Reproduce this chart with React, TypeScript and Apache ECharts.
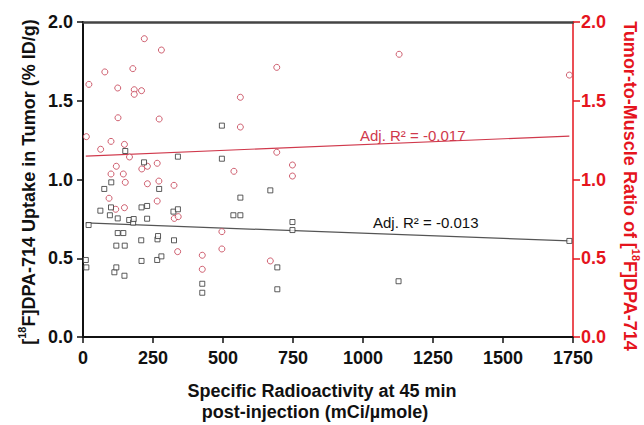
import React, { useEffect, useRef } from "react";
import * as echarts from "echarts";

// Specific radioactivity (mCi/µmole) vs [18F]DPA-714 uptake in tumor (%ID/g)
const uptakePoints: number[][] = [
  [20, 0.711], [10, 0.489], [12, 0.442], [62, 0.802], [76, 0.94], [96, 0.773], [100, 0.823],
  [101, 0.982], [112, 0.411], [119, 0.442], [119, 0.58], [124, 0.753], [124, 0.66], [144, 0.66],
  [148, 0.389], [149, 0.58], [151, 1.181], [165, 0.743], [179, 0.726], [181, 0.749], [208, 0.614],
  [209, 0.823], [209, 0.483], [218, 1.109], [229, 0.832], [229, 0.751], [265, 0.489], [266, 0.62],
  [268, 0.641], [272, 0.94], [280, 0.512], [323, 0.796], [325, 0.614], [339, 0.811], [339, 1.145],
  [426, 0.338], [426, 0.281], [496, 1.342], [496, 1.132], [537, 0.773], [562, 0.773], [562, 0.885],
  [669, 0.931], [694, 0.442], [694, 0.303], [748, 0.73], [748, 0.679], [1127, 0.354], [1737, 0.61],
];

// Specific radioactivity vs tumor-to-muscle ratio
const ratioPoints: number[][] = [
  [12, 1.272], [21, 1.604], [63, 1.192], [78, 1.683], [93, 0.881], [100, 1.242], [100, 1.035],
  [117, 0.811], [119, 1.084], [124, 1.581], [125, 1.392], [144, 1.035], [148, 1.223], [148, 0.821],
  [151, 0.982], [166, 1.143], [178, 1.704], [183, 1.57], [183, 1.541], [209, 1.564], [210, 1.067],
  [219, 1.894], [230, 1.084], [230, 0.973], [265, 1.103], [265, 0.863], [271, 0.99], [272, 1.384],
  [280, 1.822], [325, 0.963], [326, 0.753], [338, 0.542], [340, 0.764], [426, 0.519], [426, 0.43],
  [496, 0.669], [496, 0.559], [539, 1.052], [562, 1.522], [562, 1.333], [669, 0.483], [692, 1.712],
  [692, 1.173], [748, 1.092], [748, 1.022], [1129, 1.795], [1737, 1.663],
];

// Linear fit end points
const uptakeFit: number[][] = [[10, 0.724], [1737, 0.61]];
const ratioFit: number[][] = [[10, 1.149], [1737, 1.276]];

const uptakeR2 = "Adj. R² = -0.013";
const ratioR2 = "Adj. R² = -0.017";

const xTicks = { min: 0, max: 1750, interval: 250 };
const yTicks = { min: 0, max: 2, interval: 0.5 };

const FONT = "'Liberation Sans', Arial, Helvetica, sans-serif";
const RED_AXIS = "#e5141d";
const RED_MARK = "#c33a4e";
const RED_LINE = "#d0394c";
const BLACK = "#111";

export default function App() {
  const ref = useRef<HTMLDivElement>(null);

  useEffect(() => {
    if (!ref.current) return;
    const chart = echarts.init(ref.current, undefined, { renderer: "svg" });

    const richTitle = (color: string) => ({
      n: { fontSize: 18, fontWeight: "bold", fontFamily: FONT, fill: color, lineHeight: 21, verticalAlign: "bottom" },
      s: { fontSize: 11, fontWeight: "bold", fontFamily: FONT, fill: color, lineHeight: 21, verticalAlign: "top" },
    });

    const tickLabel = (color: string, margin: number) => ({
      margin,
      color,
      fontSize: 18,
      fontWeight: "bold",
      fontFamily: FONT,
    });

    chart.setOption({
      animation: false,
      backgroundColor: "#fff",
      grid: { left: 83, right: 71, top: 22, bottom: 88, containLabel: false },
      xAxis: [
        {
          type: "value",
          min: xTicks.min,
          max: xTicks.max,
          interval: xTicks.interval,
          splitLine: { show: false },
          axisLine: { show: true, onZero: false, lineStyle: { color: BLACK, width: 2 } },
          axisTick: { show: true, length: 6, lineStyle: { color: BLACK, width: 1.5 } },
          axisLabel: { ...tickLabel(BLACK, 12), formatter: (v: number) => String(v) },
        },
        {
          type: "value",
          position: "top",
          min: xTicks.min,
          max: xTicks.max,
          splitLine: { show: false },
          axisLine: { show: true, onZero: false, lineStyle: { color: "#444", width: 2.5 } },
          axisTick: { show: false },
          axisLabel: { show: false },
        },
      ],
      yAxis: [
        {
          type: "value",
          position: "left",
          min: yTicks.min,
          max: yTicks.max,
          interval: yTicks.interval,
          splitLine: { show: false },
          axisLine: { show: true, onZero: false, lineStyle: { color: BLACK, width: 2 } },
          axisTick: { show: true, length: 6, lineStyle: { color: BLACK, width: 1.5 } },
          axisLabel: { ...tickLabel(BLACK, 10), formatter: (v: number) => v.toFixed(1) },
        },
        {
          type: "value",
          position: "right",
          min: yTicks.min,
          max: yTicks.max,
          interval: yTicks.interval,
          splitLine: { show: false },
          axisLine: { show: true, onZero: false, lineStyle: { color: RED_AXIS, width: 1.5 } },
          axisTick: { show: true, length: 7, lineStyle: { color: RED_AXIS, width: 1.5 } },
          axisLabel: { ...tickLabel(RED_AXIS, 8), formatter: (v: number) => v.toFixed(1) },
        },
      ],
      series: [
        {
          type: "line",
          data: ratioFit,
          yAxisIndex: 1,
          symbol: "none",
          lineStyle: { color: RED_LINE, width: 1.2 },
          z: 1,
        },
        {
          type: "line",
          data: uptakeFit,
          yAxisIndex: 0,
          symbol: "none",
          lineStyle: { color: "#555", width: 1.2 },
          z: 1,
        },
        {
          type: "scatter",
          data: ratioPoints,
          yAxisIndex: 1,
          symbol: "circle",
          symbolSize: 6,
          itemStyle: { color: "#fff", borderColor: RED_MARK, borderWidth: 1 },
          z: 3,
        },
        {
          type: "scatter",
          data: uptakePoints,
          yAxisIndex: 0,
          symbol: "rect",
          symbolSize: 5,
          itemStyle: { color: "#fff", borderColor: "#333", borderWidth: 1 },
          z: 3,
        },
      ],
      graphic: [
        {
          type: "text",
          x: 27,
          y: 182,
          rotation: Math.PI / 2,
          style: {
            text: "{n|[}{s|18}{n|F]DPA-714 Uptake in Tumor (% ID/g)}",
            rich: richTitle(BLACK),
            align: "center",
            verticalAlign: "middle",
          },
        },
        {
          type: "text",
          x: 631,
          y: 186,
          rotation: -Math.PI / 2,
          style: {
            text: "{n|Tumor-to-Muscle Ratio of [}{s|18}{n|F]DPA-714}",
            rich: richTitle(RED_AXIS),
            align: "center",
            verticalAlign: "middle",
          },
        },
        {
          type: "text",
          x: 322,
          y: 391,
          style: {
            text: "Specific Radioactivity at 45 min",
            fill: BLACK,
            font: `bold 18px ${FONT}`,
            align: "center",
            verticalAlign: "middle",
          },
        },
        {
          type: "text",
          x: 315,
          y: 412,
          style: {
            text: "post-injection (mCi/µmole)",
            fill: BLACK,
            font: `bold 18px ${FONT}`,
            align: "center",
            verticalAlign: "middle",
          },
        },
        {
          type: "text",
          x: 360,
          y: 135,
          style: {
            text: ratioR2,
            fill: RED_LINE,
            font: `15px ${FONT}`,
            align: "left",
            verticalAlign: "middle",
          },
        },
        {
          type: "text",
          x: 373,
          y: 222,
          style: {
            text: uptakeR2,
            fill: BLACK,
            font: `15px ${FONT}`,
            align: "left",
            verticalAlign: "middle",
          },
        },
      ],
    });

    return () => chart.dispose();
  }, []);

  return (
    <div
      ref={ref}
      style={{ position: "fixed", left: 0, top: 0, width: 644, height: 425, background: "#fff" }}
    />
  );
}
